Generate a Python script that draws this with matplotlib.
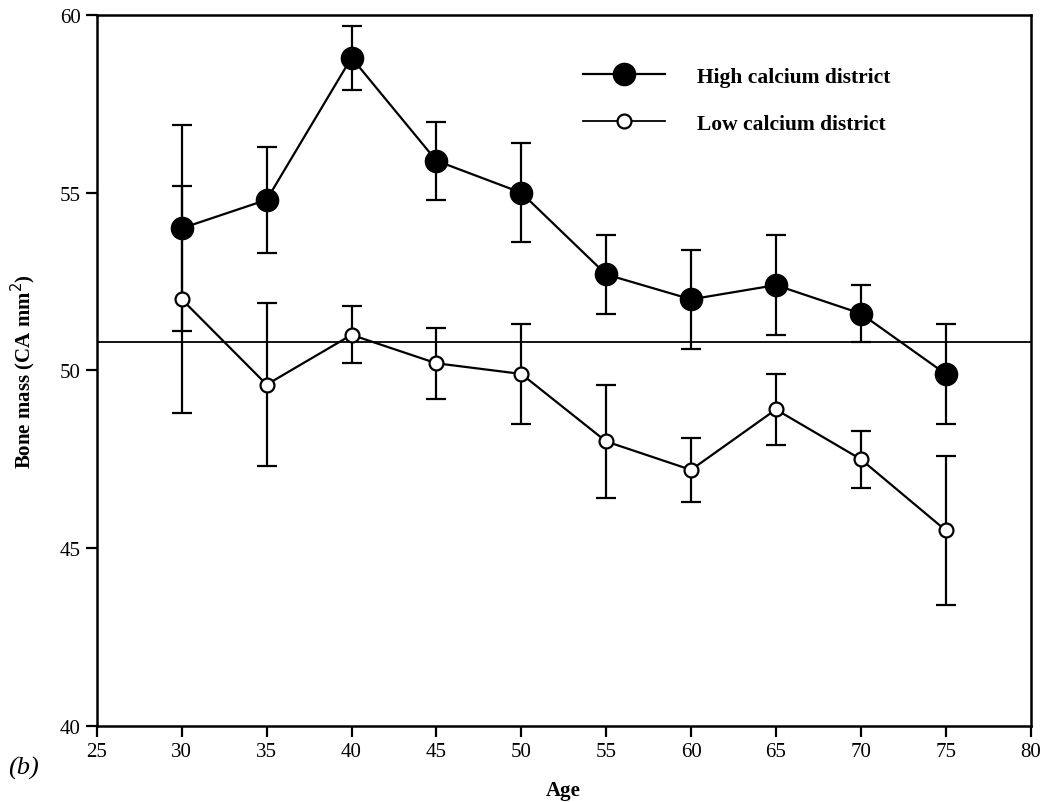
import numpy as np
from matplotlib import pyplot as plt
from matplotlib.lines import Line2D

ages = [30, 35, 40, 45, 50, 55, 60, 65, 70, 75]
high_mean = [54.0, 54.8, 58.8, 55.9, 55.0, 52.7, 52.0, 52.4, 51.6, 49.9]
high_err = [2.9, 1.5, 0.9, 1.1, 1.4, 1.1, 1.4, 1.4, 0.8, 1.4]
low_mean = [52.0, 49.6, 51.0, 50.2, 49.9, 48.0, 47.2, 48.9, 47.5, 45.5]
low_err = [3.2, 2.3, 0.8, 1.0, 1.4, 1.6, 0.9, 1.0, 0.8, 2.1]
ref_level = 50.8

x_ticks = [25, 30, 35, 40, 45, 50, 55, 60, 65, 70, 75, 80]
y_ticks = [40, 45, 50, 55, 60]

plt.rcParams['font.family'] = ['Liberation Serif', 'DejaVu Serif']

fig = plt.figure(figsize=(10.42, 8.03), dpi=100)
ax = fig.add_axes([0.093, 0.095, 0.896, 0.885])

ax.axhline(ref_level, color='black', lw=1.3, zorder=1)

ax.errorbar(ages, high_mean, yerr=high_err, color='black', lw=1.6,
            elinewidth=1.6, capsize=7, capthick=1.6, marker='o',
            markersize=16, markerfacecolor='black', markeredgecolor='black',
            zorder=3)
ax.errorbar(ages, low_mean, yerr=low_err, color='black', lw=1.6,
            elinewidth=1.6, capsize=7, capthick=1.6, marker='o',
            markersize=10, markerfacecolor='white', markeredgecolor='black',
            markeredgewidth=1.6, zorder=4)

ax.set_xlim(25, 80)
ax.set_ylim(40, 60)
ax.set_xticks(x_ticks)
ax.set_yticks(y_ticks)
ax.tick_params(direction='out', length=8, width=1.6, labelsize=15)
for s in ax.spines.values():
    s.set_linewidth(1.8)

ax.set_xlabel('Age', fontsize=15, fontweight='bold', labelpad=14)
ax.set_ylabel('Bone mass (CA mm$^2$)', fontsize=15, fontweight='bold',
              labelpad=16)

handles = [
    Line2D([], [], color='black', lw=1.6, marker='o', markersize=16,
           markerfacecolor='black'),
    Line2D([], [], color='black', lw=1.3, marker='o', markersize=10,
           markerfacecolor='white', markeredgewidth=1.6),
]
ax.legend(handles, ['High calcium district', 'Low calcium district'],
          loc='upper left', bbox_to_anchor=(0.521, 0.927), frameon=False,
          prop={'size': 15.5, 'weight': 'bold'}, handlelength=3.8,
          handletextpad=1.5, labelspacing=1.25, borderpad=0, borderaxespad=0)

fig.text(0.008, 0.035, '(b)', fontsize=19, style='italic')

fig.savefig('out.png', dpi=100)
